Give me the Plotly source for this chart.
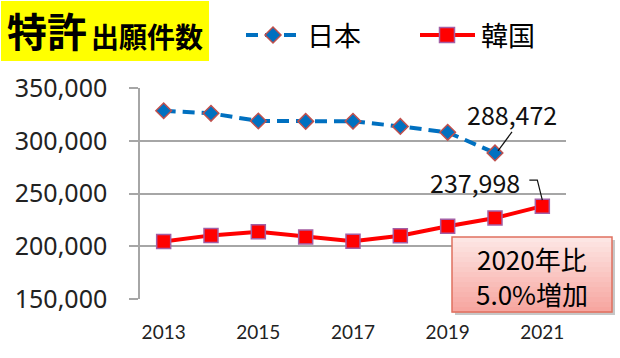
import plotly.graph_objects as go

# ---- data ----
years_jp = [2013, 2014, 2015, 2016, 2017, 2018, 2019, 2020]
japan = [328436, 325989, 318721, 318381, 318479, 313567, 307969, 288472]
years_kr = [2013, 2014, 2015, 2016, 2017, 2018, 2019, 2020, 2021]
korea = [204589, 210292, 213694, 208830, 204775, 209992, 218975, 226759, 237998]
x_ticks = [2013, 2015, 2017, 2019, 2021]
y_ticks = [150000, 200000, 250000, 300000, 350000]
y_labels = ["150,000", "200,000", "250,000", "300,000", "350,000"]
title_big = "特許"
title_small = "出願件数"
legend_names = ["日本", "韓国"]
label_jp = "288,472"
label_kr = "237,998"
box_lines = ["2020年比", "5.0%増加"]

W, H = 620, 358
L, R, T, B = 140, 54, 88, 59
PW, PH = W - L - R, H - T - B


def px(x):
    return (x - L) / PW


def py(y):
    return (H - B - y) / PH


BLUE = "#0070c0"
RED = "#ff0000"
CJK = "Noto Sans CJK JP"

fig = go.Figure()
fig.add_trace(go.Scatter(
    x=years_jp, y=japan, mode="lines+markers", name=legend_names[0],
    line=dict(color=BLUE, width=4, dash="12px,7px"),
    marker=dict(symbol="diamond", size=12, color=BLUE,
                line=dict(color="#c0504d", width=1.5)),
    cliponaxis=False, hoverinfo="skip",
))
fig.add_trace(go.Scatter(
    x=years_kr, y=korea, mode="lines+markers", name=legend_names[1],
    line=dict(color=RED, width=4),
    marker=dict(symbol="square", size=14, color=RED,
                line=dict(color="#a35fa5", width=1.5)),
    cliponaxis=False, hoverinfo="skip",
))

shapes = []
annotations = []

# title block
shapes.append(dict(type="rect", xref="paper", yref="paper",
                   x0=px(1), x1=px(209), y0=py(61), y1=py(1),
                   fillcolor="#ffff00", line=dict(width=0), layer="below"))
annotations.append(dict(xref="paper", yref="paper", x=px(47), y=py(30),
                        text="<b>" + title_big + "</b>", showarrow=False,
                        font=dict(family=CJK, size=40, color="#000"),
                        xanchor="center", yanchor="middle"))
annotations.append(dict(xref="paper", yref="paper", x=px(147), y=py(36),
                        text="<b>" + title_small + "</b>", showarrow=False,
                        font=dict(family=CJK, size=28, color="#000"),
                        xanchor="center", yanchor="middle"))

# legend (manual)
shapes.append(dict(type="line", xref="paper", yref="paper",
                   x0=px(246), x1=px(297), y0=py(35), y1=py(35),
                   line=dict(color=BLUE, width=4, dash="12px,7px")))
cx, cy = 273, 35
shapes.append(dict(type="path", xref="paper", yref="paper",
                   path=f"M {px(cx-8)},{py(cy)} L {px(cx)},{py(cy-8)} L {px(cx+8)},{py(cy)} L {px(cx)},{py(cy+8)} Z",
                   fillcolor=BLUE, line=dict(color="#c0504d", width=1.5)))
annotations.append(dict(xref="paper", yref="paper", x=px(334), y=py(34),
                        text=legend_names[0], showarrow=False,
                        font=dict(family=CJK, size=27, color="#000"),
                        xanchor="center", yanchor="middle"))
shapes.append(dict(type="line", xref="paper", yref="paper",
                   x0=px(420), x1=px(475), y0=py(35), y1=py(35),
                   line=dict(color=RED, width=4)))
cx = 447
shapes.append(dict(type="rect", xref="paper", yref="paper",
                   x0=px(cx-7.5), x1=px(cx+7.5), y0=py(cy+7.5), y1=py(cy-7.5),
                   fillcolor=RED, line=dict(color="#a35fa5", width=1.5)))
annotations.append(dict(xref="paper", yref="paper", x=px(508), y=py(34),
                        text=legend_names[1], showarrow=False,
                        font=dict(family=CJK, size=27, color="#000"),
                        xanchor="center", yanchor="middle"))

# data labels
annotations.append(dict(x=years_jp[-1], y=japan[-1], text=label_jp,
                        showarrow=False, xshift=17, yshift=39,
                        font=dict(family=CJK, size=25, color="#111"),
                        xanchor="center", yanchor="middle"))
shapes.append(dict(type="path", xref="x", yref="y",
                   xsizemode="pixel", ysizemode="pixel",
                   xanchor=years_jp[-1], yanchor=japan[-1],
                   path="M 17,21 L 3,2", line=dict(color="#111", width=1.2)))
annotations.append(dict(x=years_kr[-1], y=korea[-1], text=label_kr,
                        showarrow=False, xshift=-67, yshift=24,
                        font=dict(family=CJK, size=25, color="#111"),
                        xanchor="center", yanchor="middle"))
shapes.append(dict(type="path", xref="x", yref="y",
                   xsizemode="pixel", ysizemode="pixel",
                   xanchor=years_kr[-1], yanchor=korea[-1],
                   path="M -13,26 L -5,26 L 0,6", line=dict(color="#111", width=1.2)))

# callout box with gradient
bx0, bx1, by0, by1 = 452, 612, 237, 312
shapes.append(dict(type="rect", xref="paper", yref="paper",
                   x0=px(bx0 + 3), x1=px(bx1 + 3), y0=py(by1 + 3), y1=py(by0 + 3),
                   fillcolor="rgba(0,0,0,0.22)", line=dict(width=0)))
n = 15
c_top = (253, 230, 228)
c_bot = (247, 166, 160)
for i in range(n):
    t = i / (n - 1)
    col = tuple(round(c_top[k] + (c_bot[k] - c_top[k]) * t) for k in range(3))
    ya = by0 + (by1 - by0) * i / n
    yb = by0 + (by1 - by0) * (i + 1) / n
    shapes.append(dict(type="rect", xref="paper", yref="paper",
                       x0=px(bx0), x1=px(bx1), y0=py(yb + 0.5), y1=py(ya),
                       fillcolor="rgb(%d,%d,%d)" % col, line=dict(width=0)))
shapes.append(dict(type="rect", xref="paper", yref="paper",
                   x0=px(bx0), x1=px(bx1), y0=py(by1), y1=py(by0),
                   fillcolor="rgba(0,0,0,0)", line=dict(color="#e0705f", width=1.5)))
annotations.append(dict(xref="paper", yref="paper", x=px(532), y=py(258),
                        text=box_lines[0], showarrow=False,
                        font=dict(family=CJK, size=26, color="#000"),
                        xanchor="center", yanchor="middle"))
annotations.append(dict(xref="paper", yref="paper", x=px(532), y=py(293),
                        text=box_lines[1], showarrow=False,
                        font=dict(family=CJK, size=26, color="#000"),
                        xanchor="center", yanchor="middle"))

fig.update_layout(
    width=W, height=H,
    margin=dict(l=L, r=R, t=T, b=B),
    paper_bgcolor="white", plot_bgcolor="white",
    showlegend=False, hovermode=False,
    shapes=shapes, annotations=annotations,
    xaxis=dict(range=[2012.5, 2021.5], tickvals=x_ticks,
               ticktext=[str(v) for v in x_ticks],
               showgrid=False, zeroline=False, showline=False, ticks="",
               tickfont=dict(family="Lato", size=19, color="#222"),
               ticklabelstandoff=20),
    yaxis=dict(range=[150000, 350000], tickvals=y_ticks, ticktext=y_labels,
               showgrid=True, gridcolor="#a6a6a6", gridwidth=1.5,
               zeroline=False, showline=True, linecolor="#a6a6a6", linewidth=1.5,
               ticks="outside", ticklen=9, tickcolor="#a6a6a6", tickwidth=1.5,
               tickfont=dict(family="Noto Sans", size=25, color="#222"),
               ticklabelstandoff=17),
)

fig.write_html("out.html", config={"displayModeBar": False},
               post_script="document.body.style.margin='0px';document.body.style.padding='0px';")
